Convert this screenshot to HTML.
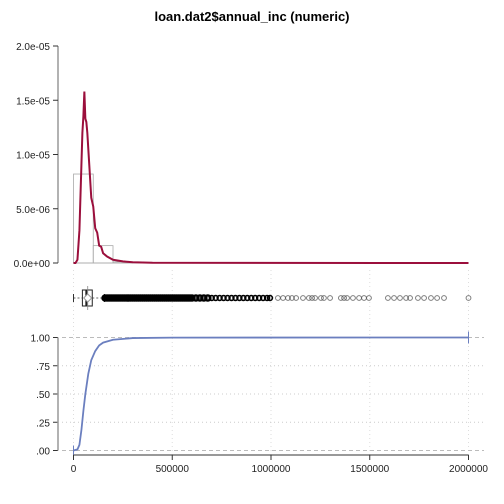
<!DOCTYPE html>
<html><head><meta charset="utf-8"><style>
body{margin:0;background:#fff}
svg{display:block;font-family:"Liberation Sans",Arial,sans-serif}
</style></head><body>
<svg id="c" width="504" height="504">
<text x="252" y="21" text-anchor="middle" font-size="13" font-weight="bold">loan.dat2$annual_inc (numeric)</text>
</svg>
<script>
const xTicks=[0,500000,1000000,1500000,2000000];
const densTicks=[0,5e-6,1e-5,1.5e-5,2e-5];
const densTickLabels=["0.0e+00","5.0e-06","1.0e-05","1.5e-05","2.0e-05"];
const cdfTicks=[0,0.25,0.5,0.75,1];
const cdfTickLabels=[".00",".25",".50",".75","1.00"];
const histBins=[0,100000,200000,300000];
const histHeights=[8.2e-6,1.6e-6,0.1e-6];
const densX=[0,10000,20000,30000,40000,45000,50000,55000,60000,65000,70000,80000,90000,100000,110000,120000,130000,140000,150000,170000,200000,250000,300000,400000,2000000];
const densY=[0,0,0.3e-6,3e-6,9e-6,12e-6,13.5e-6,15.8e-6,13.3e-6,13e-6,12e-6,9e-6,6e-6,5.2e-6,3.2e-6,2.8e-6,1.6e-6,1.5e-6,0.9e-6,0.6e-6,0.3e-6,0.15e-6,0.07e-6,0.02e-6,0];
const cdfX=[0,20000,30000,40000,50000,60000,75000,90000,110000,130000,150000,200000,300000,500000,2000000];
const cdfY=[0,0.01,0.05,0.18,0.35,0.5,0.68,0.8,0.88,0.93,0.955,0.98,0.995,0.999,1];
const boxStats=[0,45000,65000,95000,157000];
const boxMean=72000;
const outliers=[160000,170000,180000,190000,200000,210000,220000,230000,240000,250000,260000,270000,280000,290000,300000,310000,320000,330000,340000,350000,360000,370000,380000,390000,400000,410000,420000,430000,440000,450000,460000,470000,480000,490000,500000,510000,520000,530000,540000,550000,560000,570000,580000,590000,600000,620000,640000,660000,680000,700000,720000,740000,760000,780000,800000,820000,840000,860000,880000,900000,920000,940000,960000,980000,995000,1035000,1061000,1086000,1106000,1127000,1162000,1192000,1208000,1223000,1253000,1268000,1299000,1354000,1370000,1385000,1415000,1446000,1471000,1496000,1592000,1623000,1653000,1684000,1704000,1744000,1775000,1810000,1841000,1876000,2000000];

const svg=document.getElementById('c');const NS='http://www.w3.org/2000/svg';
function mk(t,a,p){const e=document.createElementNS(NS,t);for(const k in a)e.setAttribute(k,a[k]);(p||svg).appendChild(e);return e;}
const X=v=>73.5+v/2000000*395;
const DY=v=>263-v/2e-5*217;
const CY=v=>450.5-v*113;

xTicks.forEach(t=>{let l=mk('line',{x1:X(t),x2:X(t),y1:270,y2:455,stroke:'#ddd','stroke-dasharray':'1,3'});

});
let a=mk('line',{x1:58,x2:58,y1:46,y2:263,stroke:'#999','stroke-width':1.5});

densTicks.forEach((t,i)=>{mk('line',{x1:53,x2:58,y1:DY(t),y2:DY(t),stroke:'#333'});
let tx=mk('text',{x:50,y:DY(t)+4,'text-anchor':'end','font-size':10,fill:'#222'});tx.textContent=densTickLabels[i];

});
histHeights.forEach((h,i)=>{let r=mk('rect',{x:X(histBins[i]),y:DY(h),width:X(histBins[i+1])-X(histBins[i]),height:263-DY(h),fill:'none',stroke:'#aaa','stroke-width':0.8});

});
mk('line',{x1:73.5,x2:468.5,y1:263,y2:263,stroke:'#aaa','stroke-width':0.8});
let dp=mk('polyline',{points:densX.map((v,i)=>X(v)+','+DY(densY[i])).join(' '),fill:'none',stroke:'#9b0f3c','stroke-width':2});


const by=298;
mk('line',{x1:X(boxStats[0]),x2:X(boxStats[1]),y1:by,y2:by,stroke:'#666','stroke-dasharray':'2,2'});
mk('line',{x1:X(boxStats[3]),x2:X(boxStats[4]),y1:by,y2:by,stroke:'#666','stroke-dasharray':'2,2'});
mk('line',{x1:X(boxStats[0]),x2:X(boxStats[0]),y1:by-4,y2:by+4,stroke:'#333'});
mk('line',{x1:X(boxStats[4]),x2:X(boxStats[4]),y1:by-4,y2:by+4,stroke:'#333'});
let bx=mk('rect',{x:X(boxStats[1]),y:by-8,width:X(boxStats[3])-X(boxStats[1]),height:16,fill:'#fff',stroke:'#222'});

mk('line',{x1:X(boxStats[2]),x2:X(boxStats[2]),y1:by-8,y2:by+8,stroke:'#222','stroke-width':2});
mk('line',{x1:X(boxMean),x2:X(boxMean),y1:by-12,y2:by+12,stroke:'#888','stroke-width':0.8});
const mx=X(boxMean);
mk('polygon',{points:`${mx-4},${by} ${mx},${by-4} ${mx+4},${by} ${mx},${by+4}`,fill:'#fff',stroke:'#999'});
outliers.forEach(v=>{const dense=v<700000;let c=mk('circle',{cx:X(v),cy:by,r:dense?2.6:2.4,fill:'none',stroke:v<1000000?'#000':'#444','stroke-width':dense?2.4:(v<1000000?1.6:1),'stroke-opacity':v<1000000?1:0.7});

});

cdfTicks.forEach((t,i)=>{let g=mk('line',{x1:62,x2:484,y1:CY(t),y2:CY(t),stroke:(t==0||t==1)?'#bbb':'#ccc','stroke-dasharray':(t==0||t==1)?'4,3':'1,3'});

mk('line',{x1:53,x2:58,y1:CY(t),y2:CY(t),stroke:'#333'});
let tx=mk('text',{x:50,y:CY(t)+4,'text-anchor':'end','font-size':10,fill:'#222'});tx.textContent=cdfTickLabels[i];

});
let ca=mk('line',{x1:58,x2:58,y1:CY(1),y2:CY(0),stroke:'#999','stroke-width':1.5});

let cp=mk('polyline',{points:cdfX.map((v,i)=>X(v)+','+CY(cdfY[i])).join(' '),fill:'none',stroke:'#6b7fbf','stroke-width':1.8});

mk('line',{x1:X(0),x2:X(0),y1:CY(0)-5,y2:CY(0)+5,stroke:'#6b7fbf'});
mk('line',{x1:X(2000000),x2:X(2000000),y1:CY(1)-6,y2:CY(1)+6,stroke:'#6b7fbf'});
let xa=mk('line',{x1:X(0),x2:X(2000000),y1:455,y2:455,stroke:'#333'});

xTicks.forEach(t=>{mk('line',{x1:X(t),x2:X(t),y1:455,y2:460,stroke:'#333'});
let tx=mk('text',{x:X(t),y:472,'text-anchor':'middle','font-size':10,fill:'#222'});tx.textContent=String(t);

});
</script>
</body></html>
